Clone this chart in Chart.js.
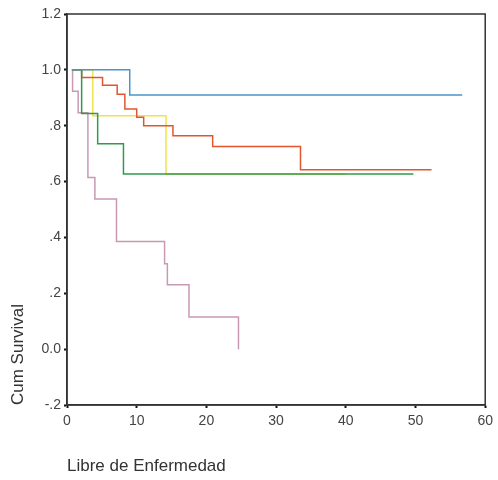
<!DOCTYPE html>
<html>
<head>
<meta charset="utf-8">
<script src="https://cdn.jsdelivr.net/npm/chart.js@4"></script>
<style>
html,body{margin:0;padding:0;background:#fff;}
#wrap{width:498px;height:480px;position:relative;}
</style>
</head>
<body>
<div id="wrap"><canvas id="c"></canvas></div>
<script>
// Data (time in months, cumulative survival)
const blueT  = [0.7, 9.0, 56.7];
const blueS  = [1.0, 0.91, 0.91];
const greenT = [0.7, 2.1, 4.4, 8.1, 49.7];
const greenS = [1.0, 0.844, 0.735, 0.627, 0.627];
const redT   = [0.7, 2.1, 5.1, 7.2, 8.3, 10.0, 11.0, 15.2, 20.9, 33.5, 52.3];
const redS   = [1.0, 0.973, 0.945, 0.913, 0.86, 0.83, 0.80, 0.764, 0.726, 0.642, 0.642];
const yellowT = [0.7, 3.7, 14.2, 40.0];
const yellowS = [1.0, 0.836, 0.627, 0.627];
const pinkT  = [0.7, 0.8, 1.6, 3.0, 4.0, 7.1, 14.0, 14.4, 17.5, 24.6];
const pinkS  = [1.0, 0.923, 0.846, 0.615, 0.538, 0.385, 0.306, 0.231, 0.115, 0.0];

const xTicks = [0, 10, 20, 30, 40, 50, 60];
const yTickLabels = ["-.2", "0.0", ".2", ".4", ".6", ".8", "1.0", "1.2"];

function pts(t, s) { return t.map((v, i) => ({x: v, y: s[i]})); }

function ds(t, s, color) {
  return {
    data: pts(t, s),
    borderColor: color,
    borderWidth: 1.5,
    pointRadius: 0,
    stepped: 'before',
    fill: false,
    tension: 0
  };
}

const frame = {
  id: 'frame',
  afterDraw(chart) {
    const a = chart.chartArea, ctx = chart.ctx;
    ctx.save();
    ctx.strokeStyle = '#333';
    ctx.lineWidth = 1.5;
    ctx.strokeRect(a.left, a.top, a.right - a.left, a.bottom - a.top);
    ctx.restore();
  }
};

new Chart(document.getElementById('c'), {
  type: 'line',
  data: {
    datasets: [
      ds(blueT, blueS, '#4a94c8'),
      ds(greenT, greenS, '#2f9a4a'),
      ds(redT, redS, '#e0562e'),
      ds(yellowT, yellowS, '#f0e34a'),
      ds(pinkT, pinkS, '#c898b4')
    ]
  },
  options: {
    responsive: true,
    maintainAspectRatio: false,
    animation: false,
    layout: { padding: { top: 14, right: 11, left: 0, bottom: 0 } },
    plugins: { legend: { display: false }, tooltip: { enabled: false } },
    scales: {
      x: {
        type: 'linear',
        min: xTicks[0],
        max: xTicks[xTicks.length - 1],
        afterBuildTicks(scale) { scale.ticks = xTicks.map(v => ({value: v})); },
        afterFit(scale) { scale.height = 75; },
        grid: { display: true, drawOnChartArea: false, drawTicks: true, tickLength: 3, tickWidth: 2, color: '#111' },
        border: { display: true, color: '#333', width: 1.5 },
        ticks: { color: '#444', padding: 5, maxRotation: 0, font: { family: 'Liberation Sans, Arial, sans-serif', size: 14 } },
        title: {
          display: true, text: 'Libre de Enfermedad', align: 'start', color: '#333',
          padding: { top: 0, bottom: 3 },
          font: { family: 'Liberation Sans, Arial, sans-serif', size: 17 }
        }
      },
      y: {
        type: 'linear',
        min: -0.2,
        max: 1.2,
        ticks: {
          stepSize: 0.2,
          color: '#444',
          padding: 3,
          font: { family: 'Liberation Sans, Arial, sans-serif', size: 14 },
          callback: (v, i) => yTickLabels[i]
        },
        afterFit(scale) { scale.width = 67; },
        grid: { display: true, drawOnChartArea: false, drawTicks: true, tickLength: 3, tickWidth: 2, color: '#111' },
        border: { display: true, color: '#333', width: 1.5 },
        title: {
          display: true, text: 'Cum Survival', align: 'start', color: '#333',
          padding: { top: 8, bottom: 0 },
          font: { family: 'Liberation Sans, Arial, sans-serif', size: 17 }
        }
      }
    }
  },
  plugins: [frame]
});
</script>
</body>
</html>
